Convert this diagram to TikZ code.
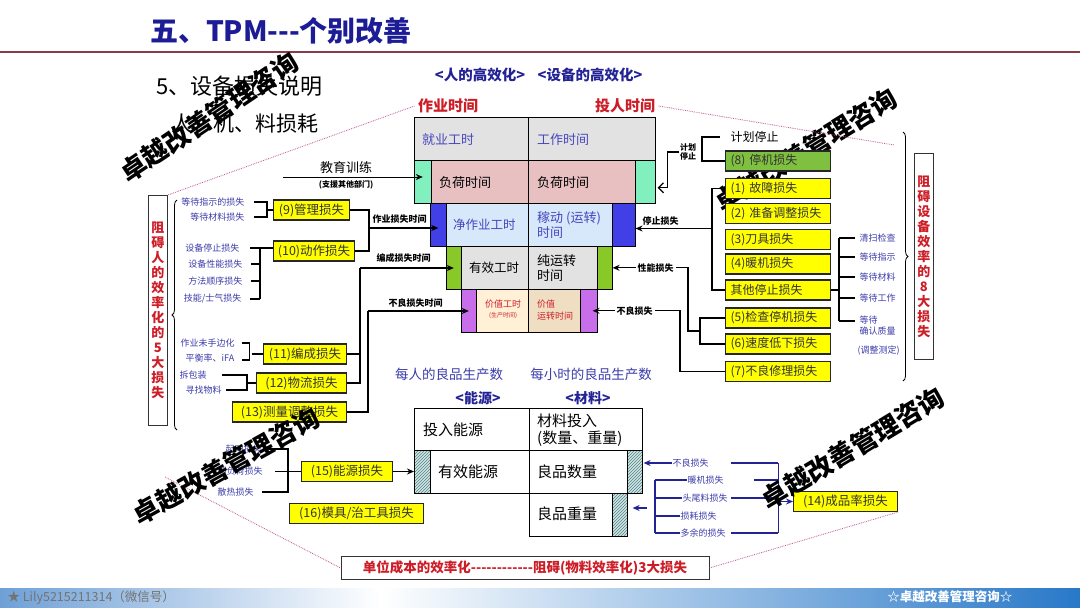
\documentclass[tikz,border=0pt]{standalone}
\usepackage{fontspec}
\setmainfont{Noto Sans CJK SC}
\usetikzlibrary{positioning,patterns,calc,arrows.meta,decorations.pathreplacing}

\newcommand{\fsz}[1]{\fontsize{#1}{#1}\selectfont}
\newcommand{\vfsz}[2]{\fontsize{#1}{#2}\selectfont}

\definecolor{titleblue}{RGB}{28,28,150}
\definecolor{rulec}{RGB}{140,60,70}
\definecolor{redtxt}{RGB}{205,30,40}
\definecolor{navy}{RGB}{35,35,150}
\definecolor{lossblue}{RGB}{60,60,170}
\definecolor{midblue}{RGB}{70,70,190}
\definecolor{yboxc}{RGB}{255,255,0}
\definecolor{gboxc}{RGB}{128,192,64}
\definecolor{mint}{RGB}{130,240,190}
\definecolor{pinkc}{RGB}{232,192,194}
\definecolor{skyc}{RGB}{214,232,250}
\definecolor{bluestrip}{RGB}{64,64,230}
\definecolor{greenstrip}{RGB}{136,200,40}
\definecolor{purplestrip}{RGB}{200,110,235}
\definecolor{peach}{RGB}{255,240,214}
\definecolor{tanc}{RGB}{240,222,195}
\definecolor{marble}{RGB}{226,226,226}
\definecolor{hatchc}{RGB}{80,130,130}
\definecolor{hatchbg}{RGB}{210,230,230}
\definecolor{guidec}{RGB}{190,90,150}
\definecolor{footl}{RGB}{110,160,215}
\definecolor{footr}{RGB}{40,120,200}

\tikzset{
  ybox/.style={draw=black!85, line width=1.1pt, fill=yboxc, text=black!80, font=\fsz{12.5}, inner sep=0pt, minimum height=20pt, anchor=west},
  rbox/.style={ybox, minimum width=105pt, text width=95pt, align=left, font=\fsz{12}},
  lbl/.style={text=lossblue, font=\fsz{9}, inner sep=0.5pt},
  tag/.style={font=\bfseries\fsz{9}, inner sep=0.5pt},
  link/.style={line width=1.3pt},
  blink/.style={line width=1.3pt, draw=navy},
  guide/.style={densely dotted, draw=guidec, line width=0.8pt},
  strip/.style={draw=black, line width=0.6pt, inner sep=0pt, anchor=north west},
  hatch/.style={strip, preaction={fill=hatchbg}, pattern=north east lines, pattern color=hatchc},
  cell/.style={anchor=west, font=\fsz{13}, inner sep=0pt},
  wm/.style={font=\bfseries\fsz{26}, text=black, inner sep=0pt},
  vtext/.style={draw=black!80, line width=0.8pt, text=redtxt, font=\bfseries\vfsz{13}{15}, align=center, inner sep=0pt, anchor=north west, minimum width=19pt},
  >={Stealth[length=7pt,width=6pt]}
}

\begin{document}
\begin{tikzpicture}[x=1pt, y=-1pt]
  \useasboundingbox (0,0) rectangle (1080,608);
  \fill[white] (0,0) rectangle (1080,608);

  % Title
  \node[font=\bfseries\fsz{28}, text=titleblue] (title) at (281,31) {五、TPM-{}-{}-个别改善};
  \draw[rulec, line width=1.5pt] (0,52) -- (1080,52);
  \node[anchor=west, font=\fsz{22}] (sub1) at (153,86) {5、设备损失说明};
  \node[anchor=west, font=\fsz{21}] (sub2) at (168,124) {人、机、料损耗};

  % Watermark behind the boxes
  \node[wm, rotate=31.6] (wm2) at (806,150) {卓越改善管理咨询};

  % Headings
  \node[font=\bfseries\fsz{14.5}, text=navy] (hm) at (480,75) {<人的高效化>};
  \node[font=\bfseries\fsz{14.5}, text=navy] (eq) at (590,75) {<设备的高效化>};
  \node[font=\bfseries\fsz{15}, text=redtxt] (zy) at (448,106) {作业时间};
  \node[font=\bfseries\fsz{15}, text=redtxt] (tr) at (625,106) {投人时间};

  % Funnel fills
  \fill[marble] (414,117) rectangle (655,160);
  \fill[pinkc] (414,160) rectangle (655,203);
  \fill[skyc] (430,203) rectangle (635,246);
  \fill[marble] (446,246) rectangle (612,289);
  \fill[peach] (461,289) rectangle (528,332);
  \fill[tanc] (528,289) rectangle (597,332);

  % Funnel strips
  \node[strip, fill=mint, minimum width=17pt, minimum height=43pt] (l2) at (414,160) {};
  \node[strip, fill=mint, minimum width=20pt, minimum height=43pt] (r2) at (635,160) {};
  \node[strip, fill=bluestrip, minimum width=16pt, minimum height=43pt] (l3) at (430,203) {};
  \node[strip, fill=bluestrip, minimum width=23pt, minimum height=43pt] (r3) at (612,203) {};
  \node[strip, fill=greenstrip, minimum width=15pt, minimum height=43pt] (l4) at (446,246) {};
  \node[strip, fill=greenstrip, minimum width=15pt, minimum height=43pt] (r4) at (597,246) {};
  \node[strip, fill=purplestrip, minimum width=15pt, minimum height=43pt] (l5) at (461,289) {};
  \node[strip, fill=purplestrip, minimum width=17pt, minimum height=43pt] (r5) at (580,289) {};

  % Funnel outlines
  \draw[line width=0.8pt] (414,117) rectangle (655,160) (414,160) rectangle (655,203)
    (430,203) rectangle (635,246) (446,246) rectangle (612,289) (461,289) rectangle (597,332);
  \draw[line width=0.8pt] (528,117) -- (528,332);

  % Funnel texts
  \node[cell, text=midblue] (jy) at (422,140) {就业工时};
  \node[cell, text=midblue] (gz) at (537,140) {工作时间};
  \node[cell] (fh1) at (439,183) {负荷时间};
  \node[cell] (fh2) at (537,183) {负荷时间};
  \node[cell, text=midblue, font=\fsz{12.5}] (jz) at (453,225) {净作业工时};
  \node[cell, text=midblue, align=left, font=\vfsz{13}{15}] (jd) at (537,225) {稼动 (运转)\\时间};
  \node[cell, font=\fsz{12.5}] (yx) at (469,268) {有效工时};
  \node[cell, align=left, font=\vfsz{13}{15}] (cy) at (537,268) {纯运转\\时间};
  \node[cell, text=redtxt, align=center, font=\vfsz{9}{10}] (jg) at (485,309) {价值工时\\{\fsz{6}(生产时间)}};
  \node[cell, text=redtxt, align=left, font=\vfsz{9}{12}] (jv) at (537,310) {价值\\运转时间};

  % Education arrow
  \coordinate (edu) at (283,177);
  \draw[link, line width=1pt, ->] (edu) -- (l2.center |- edu);
  \node[font=\fsz{13}, anchor=south, inner sep=1pt] (jx) at (346,175) {教育训练};
  \node[font=\bfseries\fsz{8}, anchor=north, inner sep=1pt] (zb) at (346,179) {(支援其他部门)};

  % Left group (9)
  \node[lbl, anchor=east] (w1) at (245,202) {等待指示的损失};
  \node[lbl, anchor=east] (w2) at (245,217) {等待材料损失};
  \node[ybox, minimum width=76pt] (m9) at (273,210) {(9)管理损失};
  \coordinate (b9) at ($(m9.west)+(-6,0)$);
  \draw[link] ($(w1.east)+(9,0)$) -| (b9 |- w2.east) -- ($(w2.east)+(9,0)$);
  \draw[link] (b9) -- (m9.west);

  % Left group (10)
  \node[lbl, anchor=east] (d1) at (240,248) {设备停止损失};
  \node[lbl, anchor=east] (d2) at (243,264) {设备性能损失};
  \node[lbl, anchor=east] (d3) at (243,281) {方法顺序损失};
  \node[lbl, anchor=east] (d4) at (242,299) {技能/士气损失};
  \node[ybox, minimum width=81pt] (m10) at (273,251) {(10)动作损失};
  \coordinate (b10) at ($(m10.west)+(-13,0)$);
  \draw[link] ($(d1.east)+(10,0)$) -- (m10.west |- d1.east);
  \foreach \d in {d2,d3,d4}
    \draw[link] ($(\d.east)+(8,0)$) -- (b10 |- \d.east);
  \draw[link] (b10 |- d1.east) -- (b10 |- d4.east);

  % Work loss time
  \coordinate (j1) at (369,228);
  \draw[link] (m9.east) -| (j1);
  \draw[link] (m10.east) -| (j1);
  \draw[link, ->] (j1) -- (l3.center |- j1);
  \node[tag, anchor=south west] (t1) at ($(j1)+(3,-4)$) {作业损失时间};

  % Left groups (11)-(13)
  \node[lbl, anchor=west] (u1) at (180,343) {作业未手边化};
  \node[lbl, anchor=west] (u2) at (185,358) {平衡率、iFA};
  \node[ybox, minimum width=83pt] (m11) at (263,354) {(11)编成损失};
  \draw[link] ($(u1.east)+(7,0)$) -- ++(7,0) |- ($(u2.east)+(7,2)$);
  \draw[link] ($(m11.west)+(-11,0)$) -- (m11.west);

  \node[lbl, anchor=west] (p1) at (179,375) {拆包装};
  \node[lbl, anchor=west] (p2) at (185,390) {寻找物料};
  \node[ybox, minimum width=90pt] (m12) at (256,383) {(12)物流损失};
  \coordinate (b12) at ($(m12.west)+(-9,0)$);
  \draw[link] ($(p1.east)+(15,0)$) -| (b12) |- ($(p2.east)+(4,0)$);
  \draw[link] (b12) -- (m12.west);

  \node[ybox, minimum width=114pt] (m13) at (232,412) {(13)测量调整损失};

  \coordinate (j2) at (360,268);
  \draw[link] (m11.east) -| (j2);
  \draw[link] (m12.east) -| (j2);
  \draw[link, ->] (j2) -- (l4.center |- j2);
  \node[tag, anchor=south west] (t2) at ($(j2)+(16,-5)$) {编成损失时间};
  \coordinate (j3) at (368,311);
  \draw[link] (m13.east) -| (j3);
  \draw[link, ->] (j3) -- (l5.center |- j3);
  \node[tag, anchor=south west] (t3) at ($(j3)+(20,-3)$) {不良损失时间};

  % Left brace and box
  \draw[decorate, decoration={brace, amplitude=5pt}, line width=0.8pt] (177,430) -- (177,200);
  \node[vtext, minimum height=230pt] (eff5) at (148,195) {阻\\碍\\人\\的\\效\\率\\化\\的\\5\\大\\损\\失};

  % Right side: planned stop
  \node[font=\fsz{12}, anchor=west] (jh) at (727,137) {计划停止};
  \node[rbox, fill=gboxc] (m8) at (725,161) {(8) 停机损失};
  \node[tag, align=center, font=\bfseries\vfsz{8}{9.5}] (jt) at (688,152) {计划\\停止};
  \coordinate (b8) at ($(m8.west)+(-23,0)$);
  \draw[link] ($(jh.west)+(-7,0)$) -| (b8) -- (m8.west);
  \draw[link, -{Straight Barb[length=5pt]}] (jt.west) -| ($(r2.east)+(12,6)$) -- ($(r2.east)+(2,6)$);

  % Right side: eight losses
  \node[rbox] (m1) at (725,188.5) {(1) 故障损失};
  \node[rbox] (m2) at (725,213.5) {(2) 准备调整损失};
  \node[rbox] (m3) at (725,239.5) {(3)刀具损失};
  \node[rbox] (m4) at (725,264) {(4)暖机损失};
  \node[rbox] (mo) at (725,290) {其他停止损失};
  \node[rbox] (m5) at (725,318) {(5)检查停机损失};
  \node[rbox] (m6) at (725,344) {(6)速度低下损失};
  \node[rbox] (m7) at (725,371.5) {(7)不良修理损失};

  % Stop loss
  \coordinate (st) at ($(m1.west)+(-13,40)$);
  \draw[link] (m1.west) -| (st) |- (mo.west);
  \draw[link, ->] (st) -- (r3.east |- st);
  \node[tag, anchor=south] (t4) at ($(r3.east |- st)+(25,-2)$) {停止损失};

  % Performance loss
  \coordinate (pf) at ($(m5.west)!0.5!(m6.west)+(-25,0)$);
  \draw[link] (m5.west) -| (pf) |- (m6.west);
  \draw[link, ->] (pf) -- ++(-12,0) |- (r4.east);
  \node[tag, fill=white, inner xsep=2pt] (t5) at ($(r4.east)+(43,0)$) {性能损失};

  % Defect loss
  \draw[link, ->] (m7.west) -- ++(-45,0) |- ($(r5.east)+(-5,0)$);
  \node[tag, fill=white, inner xsep=2pt] (t6) at ($(r5.east)+(37,0)$) {不良损失};

  % Other stops
  \node[lbl, anchor=west] (q1) at (859,238) {清扫检查};
  \node[lbl, anchor=west] (q2) at (859,257) {等待指示};
  \node[lbl, anchor=west] (q3) at (859,277) {等待材料};
  \node[lbl, anchor=west] (q4) at (859,298) {等待工作};
  \node[lbl, anchor=north west, align=left, font=\vfsz{9}{11}] (q5) at (859,315) {等待\\确认质量};
  \node[lbl, anchor=west] (q6) at (857,351) {(调整测定)};
  \coordinate (qv) at ($(mo.east)+(8,0)$);
  \coordinate (q5w) at ($(q5.north west)+(0,6)$);
  \draw[link] (mo.east) -- (qv);
  \foreach \q in {q1,q2,q3,q4}
    \draw[link, shorten <=4pt] (\q.west) -- (qv |- \q.west);
  \draw[link, shorten <=4pt] (q5w) -- (qv |- q5w);
  \draw[link] (qv |- q1.west) -- (qv |- q5w);

  % Right brace and box
  \draw[decorate, decoration={brace, amplitude=5pt}, line width=0.8pt] (903,132) -- (903,381);
  \node[vtext, minimum height=206pt] (eff8) at (914,153) {阻\\碍\\设\\备\\效\\率\\的\\8\\大\\损\\失};

  % Energy losses
  \node[lbl, anchor=west] (e1) at (225,449) {起动损失};
  \node[lbl, anchor=west] (e2) at (217,471.5) {超负荷损失};
  \node[lbl, anchor=west] (e3) at (217,492) {散热损失};
  \node[ybox, minimum width=91pt] (m15) at (301,471.5) {(15)能源损失};
  \coordinate (b15) at ($(m15.west)+(-13,0)$);
  \draw[link] ($(e1.east)+(5,0)$) -| (b15);
  \draw[link] ($(e3.east)+(8,0)$) -| (b15);
  \draw[link] ($(e2.east)+(12,0)$) -- (m15.west);
  \node[ybox, minimum width=134pt] (m16) at (289,513.5) {(16)模具/治工具损失};

  % Material table
  \node[text=lossblue, font=\fsz{13.5}] (ph) at (449,374) {每人的良品生产数};
  \node[text=lossblue, font=\fsz{13.5}] (pr) at (591,374) {每小时的良品生产数};
  \node[text=navy, font=\bfseries\fsz{14}] (ny) at (478,398) {<能源>};
  \node[text=navy, font=\bfseries\fsz{14}] (cl) at (588,398) {<材料>};
  \draw[line width=0.9pt] (414,408) rectangle (642,450) (529,408) -- (529,450)
    (414,450) rectangle (529,493) (529,450) rectangle (642,493) (529,493) rectangle (627,536);
  \node[hatch, minimum width=16pt, minimum height=43pt] (h1) at (414,450) {};
  \node[hatch, minimum width=15pt, minimum height=43pt] (h2) at (627,450) {};
  \node[hatch, minimum width=15pt, minimum height=43pt] (h3) at (612,493) {};
  \node[cell, font=\fsz{15}] (tn) at (423,430) {投入能源};
  \node[cell, font=\vfsz{15}{17}, align=left] (cn) at (537,430) {材料投入\\(数量、重量)};
  \node[cell, font=\fsz{15}] (yn) at (438,472) {有效能源};
  \node[cell, font=\fsz{15}] (lq) at (537,472) {良品数量};
  \node[cell, font=\fsz{15}] (lw) at (537,514) {良品重量};
  \draw[link, line width=1pt, ->] (m15.east) -- (h1.west |- m15.east);

  % Yield losses
  \node[lbl, anchor=west] (n1) at (672,463) {不良损失};
  \node[lbl, anchor=west] (n2) at (687,480) {暖机损失};
  \node[lbl, anchor=west] (n3) at (682,498) {头尾料损失};
  \node[lbl, anchor=west] (n4) at (680,516) {损耗损失};
  \node[lbl, anchor=west] (n5) at (680,533) {多余的损失};
  \draw[blink, ->] (n1.west) -- ($(h2.east |- n1.west)+(1,0)$);
  \coordinate (nv) at ($(n3.west)+(-27,0)$);
  \foreach \n in {n2,n3,n4,n5}
    \draw[blink] (\n.west) -- (nv |- \n.west);
  \draw[blink] (nv |- n2.west) -- (nv |- n5.west);
  \coordinate (wa) at ($(nv)+(-8,10)$);
  \draw[blink, ->] (wa) -- ($(h3.east |- wa)+(5,0)$);
  \coordinate (nr) at ($(n1.east)+(69,0)$);
  \draw[blink] ($(n1.east)+(22,0)$) -- (nr);
  \draw[blink] ($(n2.east)+(30,0)$) -- (nr |- n2.east);
  \draw[blink] ($(n3.east)+(3,0)$) -- (nr |- n3.east);
  \draw[blink] ($(n5.east)+(5,0)$) -- (nr |- n5.east);
  \draw[blink] (nr) -- (nr |- n5.east);
  \node[ybox, minimum width=104pt] (m14) at (793,501.5) {(14)成品率损失};
  \draw[blink, ->] (nr |- m14.west) -- (m14.west);

  % Cost box
  \node[draw=black!80, line width=0.9pt, minimum width=368pt, minimum height=23pt, font=\bfseries\fsz{13.5}, text=redtxt] (cost) at (525,568) {单位成本的效率化-{}-{}-{}-{}-{}-{}-{}-{}-{}-{}-{}-阻碍(物料效率化)3大损失};

  % Guides
  \draw[guide] (zy.west) -- (eff5.north east);
  \draw[guide] (tr.east) -- ($(eff8.north west)+(-20,-8)$);
  \coordinate (gl) at (165,477);
  \draw[guide] (gl) -- (cost.west);
  \draw[guide] (m14.south east) -- (cost.east);

  % Footer
  \shade[left color=footl, right color=white] (0,588) rectangle (380,608);
  \shade[left color=white, right color=footr] (380,588) rectangle (1080,608);
  \node[anchor=west, text=black!55, font=\fsz{12.5}] (wx) at (4,598) {★ Lily5215211314（微信号）};
  \node[anchor=east, text=white, font=\bfseries\fsz{12.5}] (brand) at (1016,597) {☆卓越改善管理咨询☆};

  % Watermarks
  \node[wm, rotate=34] (wm1) at (209,117) {卓越改善管理咨询};
  \node[wm, rotate=29] (wm3) at (226,466) {卓越改善管理咨询};
  \node[wm, rotate=31] (wm4) at (853,448) {卓越改善管理咨询};
\end{tikzpicture}
\end{document}
